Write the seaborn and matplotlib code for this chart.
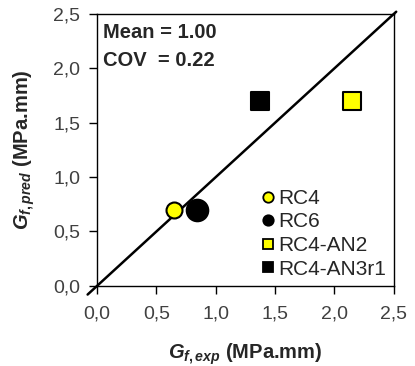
import matplotlib
matplotlib.use('Agg')
import matplotlib.pyplot as plt
from matplotlib.lines import Line2D
from matplotlib.ticker import FuncFormatter, MultipleLocator
import pandas as pd
import seaborn as sns

# data
names = ['RC4', 'RC6', 'RC4-AN2', 'RC4-AN3r1']
g_exp = [0.65, 0.84, 2.15, 1.37]
g_pred = [0.70, 0.70, 1.70, 1.70]
markers = ['o', 'o', 's', 's']
colors = ['#ffff00', '#000000', '#ffff00', '#000000']
sizes = [11.5, 15.5, 13.0, 13.0]   # marker size in points
line_ends = [-0.08, 2.52]

sns.set_style('white')
plt.rcParams['font.family'] = ['Liberation Sans', 'DejaVu Sans']
plt.rcParams['mathtext.fontset'] = 'custom'
plt.rcParams['mathtext.bf'] = 'Liberation Sans:bold'
plt.rcParams['mathtext.it'] = 'Liberation Sans:italic:bold'
plt.rcParams['mathtext.rm'] = 'Liberation Sans:bold'

fig = plt.figure(figsize=(4.15, 3.66), dpi=100)
ax = fig.add_axes([0.234, 0.219, 0.715, 0.743])

# 1:1 line
ax.plot(line_ends, line_ends, color='black', lw=1.8, clip_on=False, zorder=2)

df = pd.DataFrame({'name': names, 'exp': g_exp, 'pred': g_pred})
for i, row in df.iterrows():
  sns.scatterplot(x=[row['exp']], y=[row['pred']], ax=ax, marker=markers[i],
                  s=sizes[i] ** 2, color=colors[i], edgecolor='black',
                  linewidth=1.5, zorder=3, clip_on=False)

ax.set_xlim(0, 2.5)
ax.set_ylim(0, 2.5)
ax.xaxis.set_major_locator(MultipleLocator(0.5))
ax.yaxis.set_major_locator(MultipleLocator(0.5))
fmt = FuncFormatter(lambda v, p: f'{v:.1f}'.replace('.', ','))
ax.xaxis.set_major_formatter(fmt)
ax.yaxis.set_major_formatter(fmt)
ax.tick_params(direction='out', length=6, width=1, color='black',
               labelsize=14, labelcolor='#404040', bottom=True, left=True)
ax.tick_params(axis='x', pad=8)
ax.tick_params(axis='y', pad=6)
for sp in ax.spines.values():
  sp.set_color('black')
  sp.set_linewidth(1.0)

ax.set_xlabel(r'$G_{f,exp}$ (MPa.mm)', fontsize=14.5, fontweight='bold', labelpad=14)
ax.set_ylabel(r'$G_{f,pred}$ (MPa.mm)', fontsize=14.5, fontweight='bold', labelpad=12)

ax.text(0.02, 0.965, 'Mean = 1.00\nCOV  = 0.22', transform=ax.transAxes,
        ha='left', va='top', fontsize=14.5, fontweight='bold', linespacing=1.6)

handles = [Line2D([], [], ls='none', marker=m, markersize=7.5, markerfacecolor=c,
                  markeredgecolor='black', markeredgewidth=1.3)
           for m, c in zip(markers, colors)]
leg = ax.legend(handles, names, loc='lower right', frameon=False, fontsize=15,
                handlelength=0.5, handletextpad=0.25, labelspacing=0.22,
                borderaxespad=0.15, borderpad=0.2)
for t in leg.get_texts():
  t.set_color('#262626')

plt.savefig('out.png', dpi=100)
plt.close()
